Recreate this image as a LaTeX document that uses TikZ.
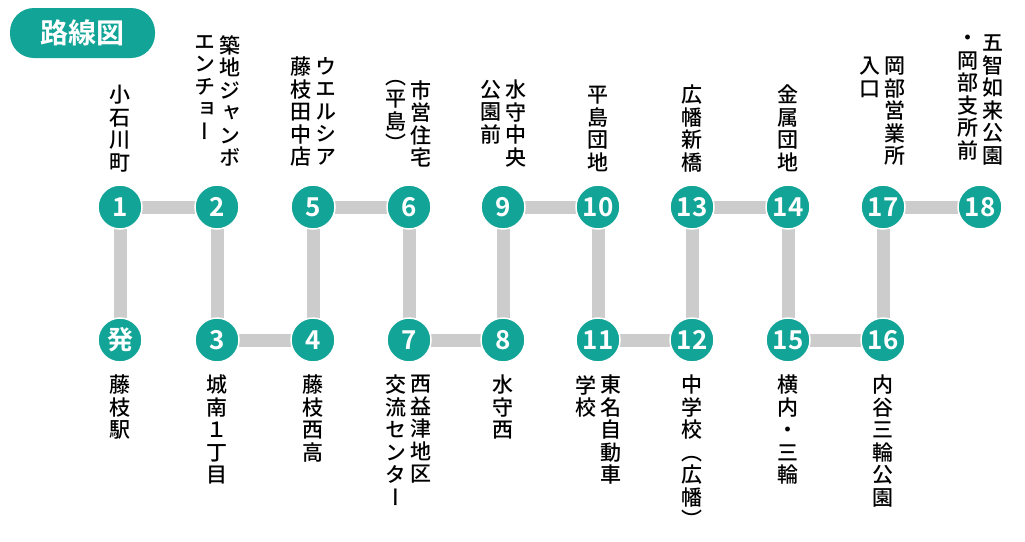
\documentclass[tikz,border=0pt]{standalone}
\usepackage{fontspec}
\usetikzlibrary{backgrounds}
\newfontfamily\cjk[RawFeature=+vert, BoldFont={Noto Sans CJK JP Bold}]{Noto Sans CJK JP Medium}
\newfontfamily\cjkh{Noto Sans CJK JP Bold}
\definecolor{myTeal}{RGB}{18,164,151}
\definecolor{myRoute}{RGB}{204,204,204}
\tikzset{
  stop/.style={circle, fill=myTeal, draw=white, line width=1.5pt, minimum size=44pt, inner sep=0pt, text=white, font=\cjkh\fontsize{26}{26}\selectfont},
  route/.style={myRoute, line width=13pt},
  vlab/.style={inner sep=0pt, align=center, font=\cjk\fontsize{21}{22.5}\selectfont},
}
\begin{document}
\begin{tikzpicture}[x=1pt,y=-1pt]
    \useasboundingbox (0,0) rectangle (1025,541);
    % header
    \fill[myTeal, rounded corners=24pt] (10,8) rectangle (155,58);
    \node[text=white, font=\cjkh\fontsize{28}{28}\selectfont] (title) at (82.5,33) {路線図};
    % stops
    \foreach \n/\t/\x/\y in {h/発/120/340, 1/1/120/207, 2/2/217/207, 3/3/217/340, 4/4/313/340,
        5/5/313/207, 6/6/409/207, 7/7/409/340, 8/8/503/340, 9/9/503/207, 10/10/598/207,
        11/11/598/340, 12/12/692/340, 13/13/692/207, 14/14/788/207, 15/15/788/340,
        16/16/883/340, 17/17/883/207, 18/18/980/207}{
        \node[stop] (s\n) at (\x,\y) {\t};
    }
    \begin{scope}[on background layer]
        \foreach \a/\b in {h/1, 1/2, 2/3, 3/4, 4/5, 5/6, 6/7, 7/8, 8/9, 9/10, 10/11,
            11/12, 12/13, 13/14, 14/15, 15/16, 16/17, 17/18}{
            \draw[route] (s\a.center) -- (s\b.center);
        }
    \end{scope}
    % top labels
    \node[vlab, anchor=south] (l1) at (120,172) {小\\石\\川\\町};
    \node[vlab, anchor=north] (l2a) at (230,35) {築\\地\\ジ\\ャ\\ン\\ボ};
    \node[vlab, anchor=north] (l2b) at (205,35) {エ\\ン\\チ\\ョ\\ー};
    \node[vlab, anchor=north] (l5a) at (326,57) {ウ\\エ\\ル\\シ\\ア};
    \node[vlab, anchor=north] (l5b) at (301,57) {藤\\枝\\田\\中\\店};
    \node[vlab, anchor=north] (l6a) at (421,80) {市\\営\\住\\宅};
    \node[vlab, anchor=north] (l6b) at (396,80) {（\\平\\島\\）};
    \node[vlab, anchor=north] (l9a) at (516,80) {水\\守\\中\\央};
    \node[vlab, anchor=north] (l9b) at (491,80) {公\\園\\前};
    \node[vlab, anchor=south] (l10) at (598,172) {平\\島\\団\\地};
    \node[vlab, anchor=south] (l13) at (692,172) {広\\幡\\新\\橋};
    \node[vlab, anchor=south] (l14) at (788,172) {金\\属\\団\\地};
    \node[vlab, anchor=north] (l17a) at (895,57) {岡\\部\\営\\業\\所};
    \node[vlab, anchor=north] (l17b) at (870,57) {入\\口};
    \node[vlab, anchor=north] (l18a) at (993,35) {五\\智\\如\\来\\公\\園};
    \node[vlab, anchor=north] (l18b) at (968,35) {・\\岡\\部\\支\\所\\前};
    % bottom labels
    \node[vlab, anchor=north] (lh) at (120,375) {藤\\枝\\駅};
    \node[vlab, anchor=north] (l3) at (217,375) {城\\南\\１\\丁\\目};
    \node[vlab, anchor=north] (l4) at (313,375) {藤\\枝\\西\\高};
    \node[vlab, anchor=north] (l7a) at (421,375) {西\\益\\津\\地\\区};
    \node[vlab, anchor=north] (l7b) at (396,375) {交\\流\\セ\\ン\\タ\\ー};
    \node[vlab, anchor=north] (l8) at (503,375) {水\\守\\西};
    \node[vlab, anchor=north] (l11a) at (611,375) {東\\名\\自\\動\\車};
    \node[vlab, anchor=north] (l11b) at (586,375) {学\\校};
    \node[vlab, anchor=north] (l12) at (692,375) {中\\学\\校\\（\\広\\幡\\）};
    \node[vlab, anchor=north] (l15) at (788,375) {横\\内\\・\\三\\輪};
    \node[vlab, anchor=north] (l16) at (883,375) {内\\谷\\三\\輪\\公\\園};
\end{tikzpicture}
\end{document}
